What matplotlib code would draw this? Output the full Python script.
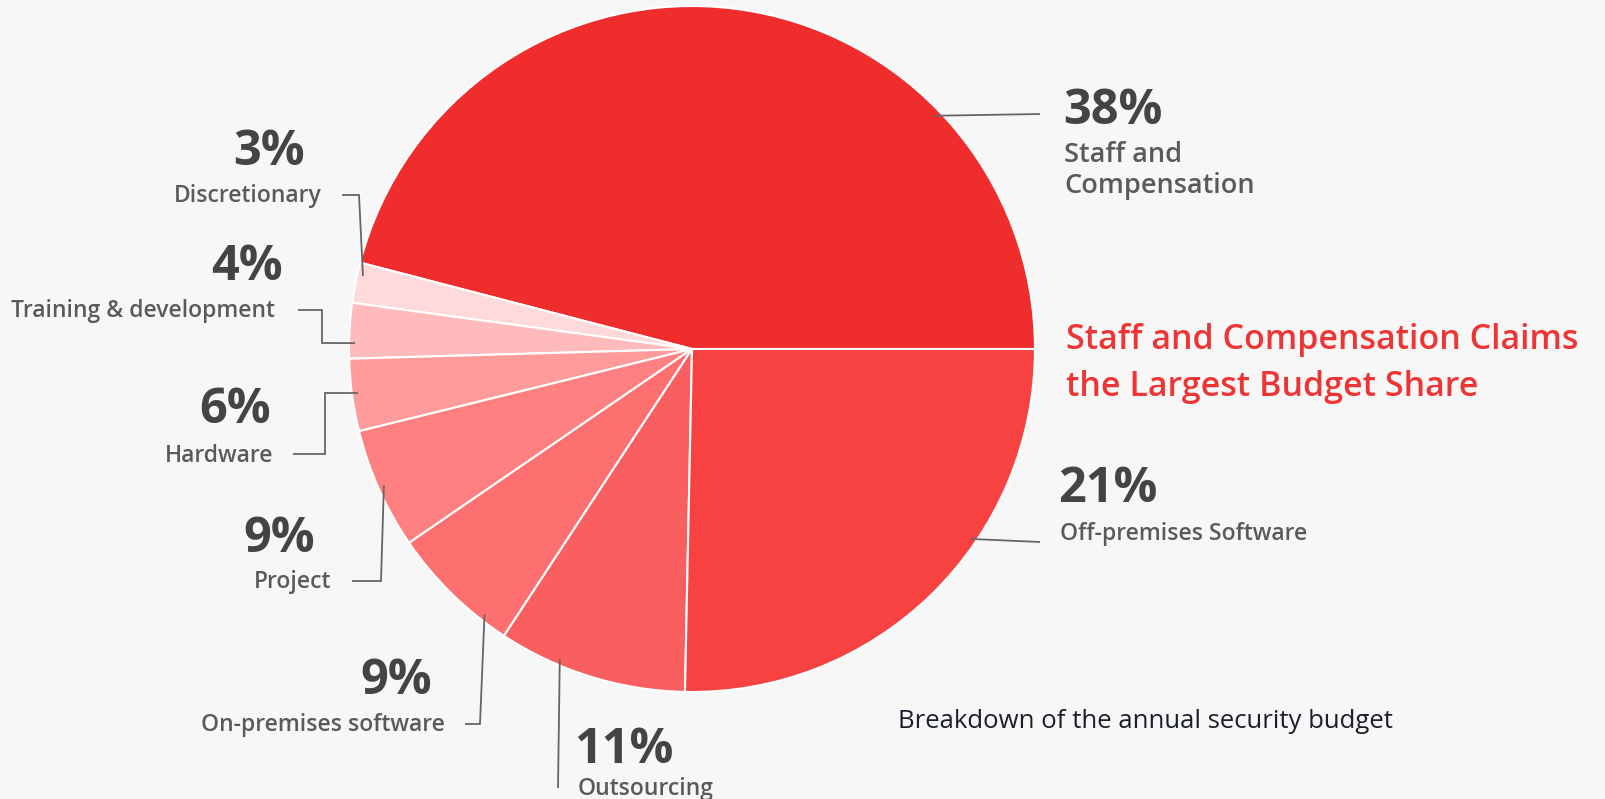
import matplotlib.pyplot as plt
import numpy as np

# share of each slice as drawn (degrees of the circle / 360)
names = ["Staff and Compensation", "Discretionary", "Training & development", "Hardware",
         "Project", "On-premises software", "Outsourcing", "Off-premises Software"]
shares = [45.9, 1.9, 2.6, 3.4, 5.7, 6.2, 8.9, 25.3]
pct_labels = ["38%", "3%", "4%", "6%", "9%", "9%", "11%", "21%"]
colors = ["#F02D2D", "#FFDADA", "#FFBBBB", "#FF9B9B", "#FF8080", "#FE6F6F", "#FA5F5F", "#F84141"]

W, H = 1605, 799
cx, cy, R = 692, 349, 343
bg = "#F7F7F7"
numc = "#444444"
labc = "#5A5A5A"
linec = "#666666"
plt.rcParams['font.family'] = ['Open Sans', 'DejaVu Sans']

fig = plt.figure(figsize=(W / 100, H / 100), dpi=100, facecolor=bg)
ax = fig.add_axes([0, 0, 1, 1])
ax.set_facecolor(bg)
ax.pie(shares, colors=colors, startangle=0, counterclock=False, center=(cx, cy), radius=R,
       wedgeprops=dict(edgecolor="white", linewidth=1.5))
ax.set_xlim(0, W)
ax.set_ylim(H, 0)
ax.set_aspect("equal")
ax.axis("off")

# leader lines: anchor angle on the rim, then waypoints
anchors = [43.8, 167.5, 179, 187.5, 203.9, 232, 246.9, -34.3]
paths = [
    [(1040, 114)],
    [(359, 195), (342, 195)],
    [(322, 343), (322, 310), (298, 310)],
    [(325, 393), (325, 454), (293, 454)],
    [(381, 581), (352, 581)],
    [(480, 724), (465, 724)],
    [(558, 788)],
    [(1040, 542)],
]
for a, p in zip(anchors, paths):
    t = np.radians(a)
    x0, y0 = cx + (R - 6) * np.cos(t), cy - (R - 6) * np.sin(t)
    xs = [x0] + [q[0] for q in p]
    ys = [y0] + [q[1] for q in p]
    ax.plot(xs, ys, color=linec, lw=1.3, solid_capstyle="butt", solid_joinstyle="miter")

# text positions: (x, baseline, ha) for number and category
num_pos = [(1063, 124, "left"), (305, 165, "right"), (283, 280, "right"), (271, 423, "right"),
           (315, 552, "right"), (432, 694, "right"), (574, 763, "left"), (1058, 502, "left")]
lab_pos = [(1064, 162, "left"), (322, 202, "right"), (275, 317, "right"), (273, 462, "right"),
           (331, 588, "right"), (445, 731, "right"), (578, 795, "left"), (1060, 540, "left")]

for i in range(len(names)):
    x, y, ha = num_pos[i]
    ax.text(x, y, pct_labels[i], fontsize=35, fontweight="bold", color=numc, ha=ha, va="baseline")
    x, y, ha = lab_pos[i]
    if i == 0:
        ax.text(x, y, "Staff and", fontsize=19.5, fontweight="semibold", color=labc, ha=ha, va="baseline")
        ax.text(x, y + 31, "Compensation", fontsize=19.5, fontweight="semibold", color=labc, ha=ha, va="baseline")
    else:
        ax.text(x, y, names[i], fontsize=16.5, fontweight="semibold", color=labc, ha=ha, va="baseline")

ax.text(1066, 349, "Staff and Compensation Claims", fontsize=24.5, fontweight="semibold",
        color="#EE3535", ha="left", va="baseline")
ax.text(1066, 396, "the Largest Budget Share", fontsize=24.5, fontweight="semibold",
        color="#EE3535", ha="left", va="baseline")
ax.text(898, 728, "Breakdown of the annual security budget", fontsize=18.5, color="#1A1F2B",
        ha="left", va="baseline")

fig.savefig("out.png", dpi=100, facecolor=bg)
